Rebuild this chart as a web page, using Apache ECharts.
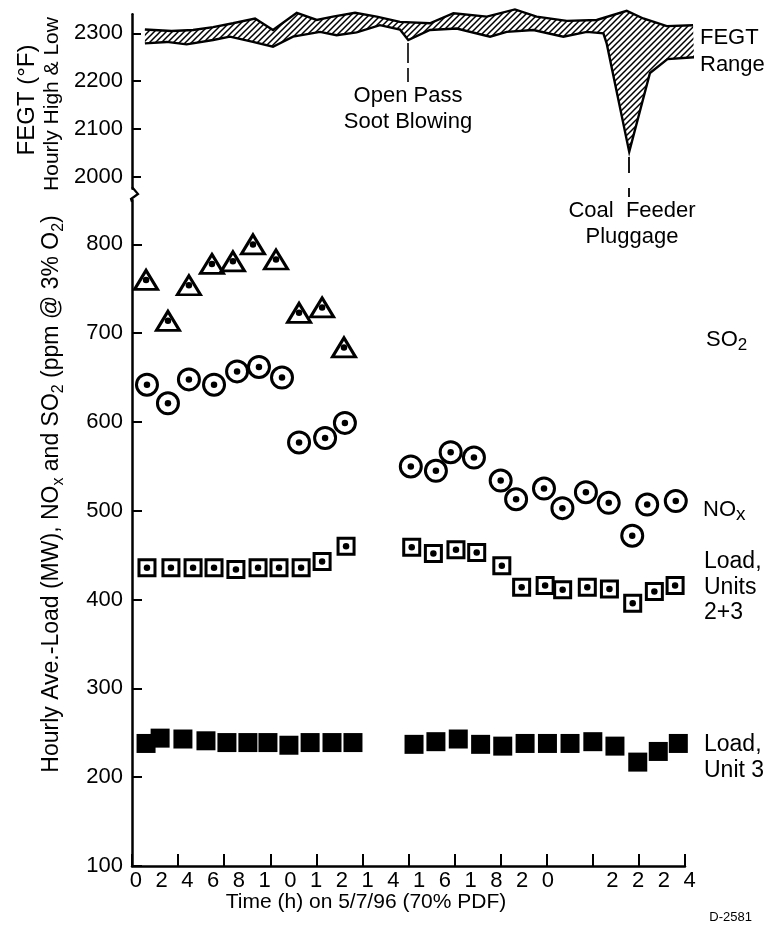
<!DOCTYPE html>
<html>
<head>
<meta charset="utf-8">
<title>FEGT, NOx, SO2 and load on 5/7/96</title>
<script src="https://cdn.jsdelivr.net/npm/echarts@6.0.0/dist/echarts.min.js"></script>
<style>
  html, body { margin: 0; padding: 0; background: #fff; }
  #main { width: 770px; height: 933px; }
</style>
</head>
<body>
<div id="main"></div>
<script>
const FONT = "'Liberation Sans', Arial, Helvetica, sans-serif";
const NARROW = "'Liberation Sans Narrow', 'Arial Narrow', 'Liberation Sans', sans-serif";

// digits printed under the time axis (0..24 h), one slot = half a digit step
const xTickLabels = ['0', '', '2', '', '4', '', '6', '', '8', '', '1', '', '0', '', '1', '', '2', '', '1', '', '4', '',
    '1', '', '6', '', '1', '', '8', '', '2', '', '0', '', '', '', '', '2', '', '2', '', '2', '', '4'];
const fegtTicks = [2000, 2100, 2200, 2300];
const mainTicks = [100, 200, 300, 400, 500, 600, 700, 800];

// FEGT hourly high & low (deg F)
const fegtHighTime = [0.56, 1.72, 2.65, 3.52, 4.38, 5.34, 6.12, 7.15, 8.02, 8.72, 9.68, 10.62, 11.63, 12.93,
    13.95, 15.40, 16.62, 17.56, 18.87, 20.17, 21.47, 22.19, 23.21, 24.35];
const fegtHigh = [2308, 2305, 2307, 2313, 2321, 2331, 2307, 2343, 2328, 2335, 2343, 2335, 2324, 2321,
    2342, 2335, 2350, 2335, 2326, 2328, 2347, 2331, 2315, 2317];
const fegtLowTime = [0.56, 1.51, 2.37, 3.52, 4.25, 5.25, 6.12, 6.99, 8.16, 8.88, 9.75, 10.76, 11.63, 11.99,
    12.93, 14.09, 15.54, 16.26, 17.42, 18.72, 19.74, 20.46, 20.60, 21.58, 22.48, 23.24, 24.39];
const fegtLow = [2279, 2282, 2277, 2286, 2293, 2282, 2272, 2293, 2303, 2296, 2302, 2317, 2308, 2286,
    2307, 2310, 2293, 2303, 2307, 2293, 2303, 2300, 2279, 2052, 2217, 2246, 2250];

// SO2 (ppm @ 3% O2)
const so2Time = [0.61, 1.56, 2.47, 3.47, 4.38, 5.25, 6.25, 7.25, 8.25, 9.20];
const so2 = [760, 714, 754, 778, 781, 800, 783, 723, 729, 684];

// NOx (ppm @ 3% O2)
const noxTime = [0.65, 1.56, 2.47, 3.56, 4.56, 5.51, 6.51, 7.25, 8.38, 9.24,
    12.10, 13.19, 13.83, 14.84, 16.00, 16.67, 17.88, 18.68, 19.70, 20.69, 21.71, 22.36, 23.60];
const nox = [642, 621, 648, 642, 657, 662, 650, 577, 582, 599,
    550, 545, 566, 560, 534, 513, 525, 503, 521, 509, 472, 507, 511];

// Load, units 2+3 (MW)
const load23Time = [0.65, 1.69, 2.65, 3.56, 4.51, 5.47, 6.38, 7.34, 8.25, 9.29,
    12.14, 13.08, 14.06, 14.96, 16.05, 16.91, 17.93, 18.69, 19.76, 20.72, 21.73, 22.67, 23.57];
const load23 = [436, 436, 436, 436, 434, 436, 436, 436, 443, 460,
    459, 452, 456, 453, 438, 414, 416, 411, 414, 412, 396, 409, 416];

// Load, unit 3 (MW)
const load3Time = [0.61, 1.22, 2.21, 3.21, 4.12, 5.03, 5.90, 6.81, 7.73, 8.68, 9.59,
    12.24, 13.19, 14.16, 15.13, 16.09, 17.06, 18.03, 19.01, 20.00, 20.96, 21.95, 22.84, 23.71];
const load3 = [238, 244, 243, 241, 239, 239, 239, 236, 239, 239, 239,
    237, 240, 243, 237, 235, 238, 238, 238, 240, 235, 217, 229, 238];

const pairs = (xs, ys) => xs.map((x, i) => [x, ys[i]]);

// diagonal hatching for the FEGT band
const makeHatch = () => {
    const c = document.createElement('canvas');
    c.width = 6;
    c.height = 6;
    const ctx = c.getContext('2d');
    ctx.strokeStyle = '#000';
    ctx.lineWidth = 1.5;
    ctx.beginPath();
    ctx.moveTo(-1, 7); ctx.lineTo(7, -1);
    ctx.moveTo(-1, 1); ctx.lineTo(1, -1);
    ctx.moveTo(5, 7); ctx.lineTo(7, 5);
    ctx.stroke();
    return c;
};
const hatch = { image: makeHatch(), repeat: 'repeat' };

const txt = (x, y, text, size, family, align, extra) => Object.assign({
    type: 'text', x: x, y: y, silent: true,
    style: { text: text, fill: '#000', fontSize: size, fontFamily: family, align: align || 'left', verticalAlign: 'middle' }
}, extra || {});

const chartDom = document.getElementById('main');
const myChart = echarts.init(chartDom, null, { renderer: 'canvas' });

const axisLabelStyle = { color: '#000', fontSize: 22, fontFamily: FONT, margin: 9, formatter: (v) => String(v) };
const hollow = { color: '#fff', borderColor: '#000', borderWidth: 3, opacity: 1 };

const option = {
    backgroundColor: '#fff',
    animation: false,
    grid: [
        { left: 132, top: 14.2, width: 564.5, height: 174.5, outerBoundsMode: 'none' },
        { left: 132, top: 200, width: 553, height: 666, outerBoundsMode: 'none' },
        { left: 135.8, top: 865, width: 553.8, height: 1, outerBoundsMode: 'none' }
    ],
    xAxis: [
        { gridIndex: 0, type: 'value', min: 0, max: 24.5, show: false },
        {
            gridIndex: 1, type: 'value', min: 0, max: 24, interval: 2,
            axisLine: { lineStyle: { color: '#000', width: 2.5 } },
            axisTick: { inside: true, length: 12, lineStyle: { color: '#000', width: 2 } },
            axisLabel: { show: false },
            splitLine: { show: false }
        },
        {
            gridIndex: 2, type: 'category', boundaryGap: false, data: xTickLabels,
            axisLine: { show: false }, axisTick: { show: false },
            axisLabel: { interval: 0, color: '#000', fontSize: 22, fontFamily: FONT, margin: 4 }
        }
    ],
    yAxis: [
        {
            gridIndex: 0, type: 'value', min: 1975, max: 2340,
            axisLine: { show: true, lineStyle: { color: '#000', width: 2.5 } },
            axisTick: { show: true, inside: true, length: 9, customValues: fegtTicks, lineStyle: { color: '#000', width: 2 } },
            axisLabel: Object.assign({ customValues: fegtTicks }, axisLabelStyle),
            splitLine: { show: false }
        },
        {
            gridIndex: 1, type: 'value', min: 100, max: 850,
            axisLine: { show: true, lineStyle: { color: '#000', width: 2.5 } },
            axisTick: { show: true, inside: true, length: 10, customValues: mainTicks, lineStyle: { color: '#000', width: 2 } },
            axisLabel: Object.assign({ customValues: mainTicks }, axisLabelStyle),
            splitLine: { show: false }
        },
        { gridIndex: 2, type: 'value', show: false }
    ],
    series: [
        {
            name: 'FEGT Range',
            type: 'custom',
            xAxisIndex: 0,
            yAxisIndex: 0,
            clip: false,
            silent: true,
            data: pairs(fegtHighTime, fegtHigh),
            renderItem: function (params, api) {
                if (params.dataIndex !== 0) return;
                const hi = fegtHighTime.map((t, i) => api.coord([t, fegtHigh[i]]));
                const lo = fegtLowTime.map((t, i) => api.coord([t, fegtLow[i]]));
                return {
                    type: 'group',
                    children: [
                        { type: 'polygon', shape: { points: hi.concat(lo.slice().reverse()) }, style: { fill: hatch, stroke: null } },
                        { type: 'polyline', shape: { points: hi }, style: { fill: null, stroke: '#000', lineWidth: 2.4, lineJoin: 'miter' } },
                        { type: 'polyline', shape: { points: lo }, style: { fill: null, stroke: '#000', lineWidth: 2.4, lineJoin: 'miter' } }
                    ]
                };
            }
        },
        {
            name: 'SO2', type: 'scatter', xAxisIndex: 1, yAxisIndex: 1,
            symbol: 'triangle', symbolSize: [23, 19], itemStyle: hollow,
            data: pairs(so2Time, so2)
        },
        {
            name: 'NOx', type: 'scatter', xAxisIndex: 1, yAxisIndex: 1,
            symbol: 'circle', symbolSize: 21, itemStyle: hollow,
            data: pairs(noxTime, nox)
        },
        {
            name: 'Load, Units 2+3', type: 'scatter', xAxisIndex: 1, yAxisIndex: 1,
            symbol: 'rect', symbolSize: 16, itemStyle: hollow,
            data: pairs(load23Time, load23)
        },
        {
            name: 'Load, Unit 3', type: 'scatter', xAxisIndex: 1, yAxisIndex: 1,
            symbol: 'rect', symbolSize: 19, itemStyle: { color: '#000', opacity: 1 },
            data: pairs(load3Time, load3)
        },
        {
            name: 'centre dots', type: 'scatter', xAxisIndex: 1, yAxisIndex: 1,
            symbol: 'circle', symbolSize: 6.5, itemStyle: { color: '#000', opacity: 1 }, z: 3,
            data: pairs(so2Time, so2).concat(pairs(noxTime, nox), pairs(load23Time, load23))
        }
    ],
    graphic: [
        // axis break between the two panels
        { type: 'polyline', silent: true, shape: { points: [[132, 187], [138, 194], [131, 199], [132, 202]] },
          style: { stroke: '#000', lineWidth: 2.2, fill: null } },
        // leader lines for the notes
        { type: 'line', silent: true, shape: { x1: 408, y1: 43, x2: 408, y2: 82 },
          style: { stroke: '#000', lineWidth: 1.6, lineDash: [20, 5] } },
        { type: 'line', silent: true, shape: { x1: 629, y1: 157, x2: 629, y2: 197 },
          style: { stroke: '#000', lineWidth: 1.8, lineDash: [16, 15] } },
        txt(408, 96, 'Open Pass', 22, FONT, 'center'),
        txt(408, 122, 'Soot Blowing', 22, FONT, 'center'),
        txt(632, 211, 'Coal  Feeder', 22, FONT, 'center'),
        txt(632, 237, 'Pluggage', 22, FONT, 'center'),
        // series names at the right
        txt(700, 38, 'FEGT', 22, FONT),
        txt(700, 65, 'Range', 22, FONT),
        {
            type: 'text', x: 706, y: 340, silent: true,
            style: {
                text: '{a|SO}{s|2}', fill: '#000', fontFamily: FONT, align: 'left', verticalAlign: 'middle',
                rich: { a: { fontSize: 22, fontFamily: FONT, lineHeight: 28 }, s: { fontSize: 17, fontFamily: FONT, lineHeight: 16, verticalAlign: 'bottom' } }
            }
        },
        {
            type: 'text', x: 703, y: 510, silent: true,
            style: {
                text: '{a|NO}{s|x}', fill: '#000', fontFamily: FONT, align: 'left', verticalAlign: 'middle',
                rich: { a: { fontSize: 22, fontFamily: FONT, lineHeight: 28 }, s: { fontSize: 19, fontFamily: FONT, lineHeight: 16, verticalAlign: 'bottom' } }
            }
        },
        txt(704, 562, 'Load,', 23, NARROW),
        txt(704, 588, 'Units', 23, NARROW),
        txt(704, 613, '2+3', 23, NARROW),
        txt(704, 745, 'Load,', 23, NARROW),
        txt(704, 771, 'Unit 3', 23, NARROW),
        // axis titles
        txt(366, 902, 'Time (h) on 5/7/96 (70% PDF)', 21, NARROW, 'center'),
        txt(752, 917, 'D-2581', 13, NARROW, 'right'),
        txt(27, 100, 'FEGT (°F)', 24, FONT, 'center', { rotation: Math.PI / 2 }),
        txt(52, 104, 'Hourly High & Low', 21, FONT, 'center', { rotation: Math.PI / 2 }),
        {
            type: 'text', x: 52, y: 494, rotation: Math.PI / 2, silent: true,
            style: {
                text: '{a|Hourly Ave.-Load (MW), NO}{s|x}{a| and SO}{s|2}{a| (ppm @ 3% O}{s|2}{a|)}',
                fill: '#000', fontFamily: FONT, align: 'center', verticalAlign: 'middle',
                rich: {
                    a: { fontSize: 23, fontFamily: FONT, lineHeight: 29 },
                    s: { fontSize: 16, fontFamily: FONT, lineHeight: 15, verticalAlign: 'bottom' }
                }
            }
        }
    ]
};

myChart.setOption(option);
</script>
</body>
</html>
